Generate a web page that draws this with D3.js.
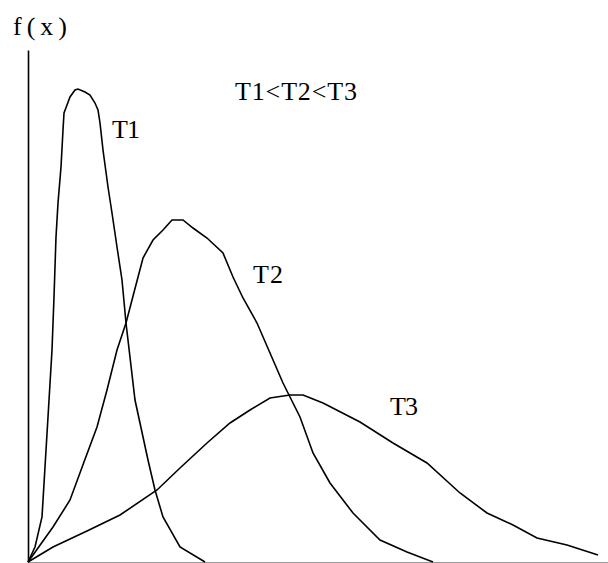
<!DOCTYPE html>
<html>
<head>
<meta charset="utf-8">
<script src="https://cdn.jsdelivr.net/npm/d3@7"></script>
<style>
  body { margin: 0; background: #fff; }
  svg { display: block; }
  .curve { fill: none; stroke: #000; stroke-width: 1.6; }
  .label { font-family: "Liberation Serif", serif; font-size: 26px; fill: #000; }
</style>
</head>
<body>
<svg id="chart" width="608" height="563"></svg>
<script>
// curves, [x, f(x)]
var t1Values = [
  [0, 0], [0.7, 1.5], [1.4, 4.5], [1.7, 9.5], [2.0, 14.5], [2.4, 21.2], [2.6, 26.5],
  [2.8, 32.5], [3.0, 35.9], [3.3, 39.5], [3.5, 43.2], [3.6, 44.9], [3.9, 45.7],
  [4.2, 46.5], [4.7, 47.2], [5.0, 47.3], [5.7, 47.0], [6.2, 46.7], [6.7, 45.9],
  [7.0, 45.2], [7.2, 43.9], [7.5, 41.2], [8.0, 37.5], [8.4, 34.9], [8.9, 31.5],
  [9.4, 28.2], [9.8, 23.9], [10.7, 16.2], [12.0, 10.2], [12.7, 7.2], [13.5, 4.5],
  [15.2, 1.5], [17.7, 0]
];
var t2Values = [
  [0, 0], [2.5, 3.5], [4.2, 6.2], [5.6, 10.0], [6.9, 13.5], [7.9, 17.2], [8.9, 21.2],
  [9.8, 23.9], [10.4, 26.2], [11.5, 30.4], [12.5, 32.2], [13.5, 33.2], [14.4, 34.2],
  [15.5, 34.2], [16.5, 33.4], [17.9, 32.4], [19.5, 30.9], [20.5, 28.5], [21.5, 26.4],
  [22.9, 23.9], [24.2, 20.9], [25.5, 17.9], [26.2, 16.5], [27.2, 14.5], [28.5, 10.9],
  [30.2, 7.9], [32.5, 4.9], [35.2, 2.2], [37.9, 1.0], [40.5, 0]
];
var t3Values = [
  [0, 0], [2.5, 1.5], [5.9, 3.1], [9.2, 4.7], [12.9, 7.2], [15.2, 9.4], [17.9, 11.9],
  [20.2, 13.9], [22.2, 15.2], [24.2, 16.4], [26.2, 16.7], [27.5, 16.7], [29.5, 15.9],
  [33.2, 14.0], [36.5, 11.9], [39.9, 9.9], [43.2, 6.9], [45.9, 4.9], [48.5, 3.7],
  [50.9, 2.4], [53.9, 1.7], [57.0, 0.7]
];
var seriesNames = ['T1', 'T2', 'T3'];
var yLabel = 'f(x)';
var noteText = 'T1<T2<T3';

var svg = d3.select('#chart');
var margin = {top: 50, right: 0, bottom: 1, left: 28};
var width = +svg.attr('width');
var height = +svg.attr('height');

var x = d3.scaleLinear().domain([0, 58]).range([margin.left, width]);
var y = d3.scaleLinear().domain([0, 51.2]).range([height - margin.bottom, margin.top]);

// x axis: plain grey baseline
svg.append('g')
  .attr('transform', 'translate(0,' + (height - margin.bottom) + ')')
  .call(d3.axisBottom(x).tickValues([]).tickSizeOuter(0))
  .select('.domain')
  .attr('stroke', '#999')
  .attr('stroke-width', 1.2);

// y axis: black line, no ticks
svg.append('g')
  .attr('transform', 'translate(' + margin.left + ',0)')
  .call(d3.axisLeft(y).tickValues([]).tickSizeOuter(0))
  .select('.domain')
  .attr('stroke', '#000')
  .attr('stroke-width', 1.6);

var line = d3.line()
  .x(function(d) { return x(d[0]); })
  .y(function(d) { return y(d[1]); });

svg.selectAll('.curve')
  .data([t1Values, t2Values, t3Values])
  .enter().append('path')
  .attr('class', 'curve')
  .attr('d', line);

// text labels, placed in data coordinates
var labels = [
  {text: yLabel, at: [-1.5, 52.7], len: 54},
  {text: seriesNames[0], at: [8.4, 42.4], len: 28},
  {text: noteText, at: [20.7, 46.2], len: 122},
  {text: seriesNames[1], at: [22.5, 27.9], len: 30},
  {text: seriesNames[2], at: [36.2, 14.7], len: 28}
];

svg.selectAll('.label')
  .data(labels)
  .enter().append('text')
  .attr('class', 'label')
  .attr('x', function(d) { return x(d.at[0]); })
  .attr('y', function(d) { return y(d.at[1]); })
  .attr('textLength', function(d) { return d.len; })
  .attr('lengthAdjust', 'spacing')
  .text(function(d) { return d.text; });
</script>
</body>
</html>
